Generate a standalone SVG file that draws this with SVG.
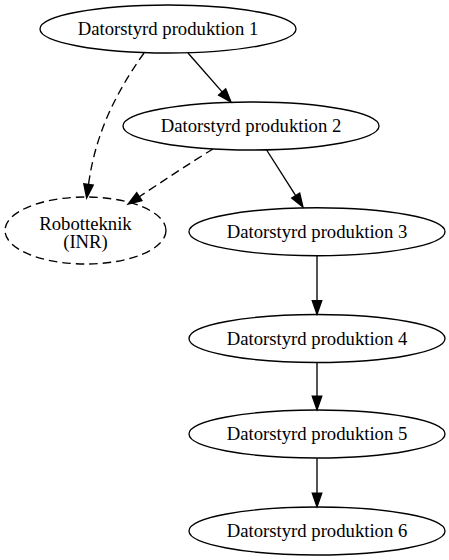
<svg xmlns="http://www.w3.org/2000/svg" width="449" height="560" viewBox="0 0 449 560">
<style>
.n ellipse{fill:none;stroke:#000;stroke-width:1.35}
.d ellipse{stroke-dasharray:8.5,5}
text{font-family:"Liberation Serif","Times New Roman",serif;font-size:18.7px;text-anchor:middle;fill:#000}
.e path{fill:none;stroke:#000;stroke-width:1.35;marker-end:url(#ah)}
.e path.dash{stroke-dasharray:8.5,5}
</style>
<defs>
<marker id="ah" viewBox="0 0 10 7" refX="0" refY="3.5" markerWidth="13.5" markerHeight="9.45" markerUnits="userSpaceOnUse" orient="auto" overflow="visible">
<path d="M0,0 L10,3.5 L0,7 Z" fill="#000" stroke="#000" stroke-width="1"/>
</marker>
</defs>
<rect width="449" height="560" fill="#fff"/>
<g id="edges" class="e">
<path d="M188,53 L222.1,91.9"/>
<path d="M266,149 L295.7,195.6"/>
<path d="M317,256 L317,300.7"/>
<path d="M317,362.8 L317,396.2"/>
<path d="M317,458.3 L317,493.2"/>
<path class="dash" d="M144,53 C118,90 96,130 88.5,184.5"/>
<path class="dash" d="M213,149 C190,163 160,183 139.3,196.7"/>
</g>
<g id="n1" class="n"><ellipse cx="168" cy="29" rx="128" ry="24"/><text x="168" y="35">Datorstyrd produktion 1</text></g>
<g id="n2" class="n"><ellipse cx="251" cy="126" rx="128" ry="24"/><text x="251" y="132">Datorstyrd produktion 2</text></g>
<g id="robot" class="n d"><ellipse cx="85.5" cy="230.5" rx="80.5" ry="33.5"/><text x="85.5" y="229.5">Robotteknik</text><text x="85.5" y="247.5">(INR)</text></g>
<g id="n3" class="n"><ellipse cx="317" cy="231.7" rx="128" ry="24"/><text x="317" y="238">Datorstyrd produktion 3</text></g>
<g id="n4" class="n"><ellipse cx="317" cy="338.5" rx="128" ry="24"/><text x="317" y="344.5">Datorstyrd produktion 4</text></g>
<g id="n5" class="n"><ellipse cx="317" cy="434" rx="128" ry="24"/><text x="317" y="440">Datorstyrd produktion 5</text></g>
<g id="n6" class="n"><ellipse cx="317" cy="531" rx="128" ry="24"/><text x="317" y="537">Datorstyrd produktion 6</text></g>
</svg>
